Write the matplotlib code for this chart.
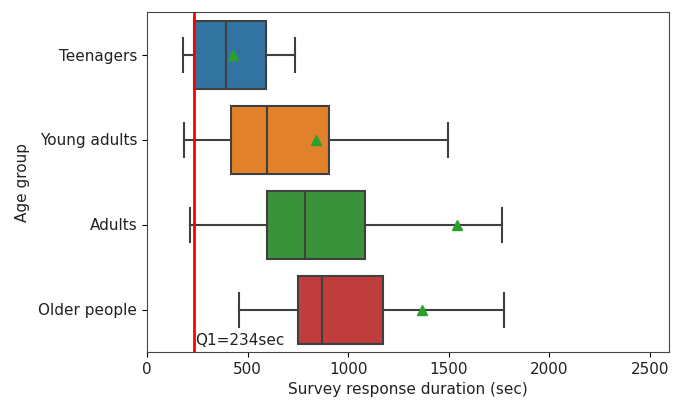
import matplotlib
matplotlib.use("Agg")
import matplotlib.pyplot as plt
from matplotlib.transforms import blended_transform_factory

groups = ["Teenagers", "Young adults", "Adults", "Older people"]
whislo = [177, 183, 214, 458]
q1 = [235, 417, 595, 749]
med = [394, 597, 784, 871]
q3 = [592, 907, 1085, 1175]
whishi = [736, 1497, 1766, 1776]
means = [429, 840, 1540, 1368]
colors = ["#3274a1", "#e1812c", "#3a923a", "#c03d3e"]
q1_line = 234

fig = plt.figure(figsize=(6.8, 4.03), dpi=100)
ax = fig.add_axes([147/680, 1-352/403, (669-147)/680, (352-12)/403])

stats = []
for i, g in enumerate(groups):
    stats.append(dict(label=g, whislo=whislo[i], q1=q1[i], med=med[i], q3=q3[i],
                      whishi=whishi[i], mean=means[i], fliers=[]))

gray = "#3f3f3f"
bp = ax.bxp(stats, positions=range(len(groups)), vert=False, widths=0.8,
            patch_artist=True, showmeans=True, showfliers=False,
            boxprops=dict(edgecolor=gray, linewidth=1.5),
            medianprops=dict(color=gray, linewidth=1.5),
            whiskerprops=dict(color=gray, linewidth=1.5),
            capprops=dict(color=gray, linewidth=1.5),
            meanprops=dict(marker="^", markerfacecolor="#2ca02c",
                           markeredgecolor="#2ca02c", markersize=7))
for patch, c in zip(bp["boxes"], colors):
    patch.set_facecolor(c)

fs = 11
ax.set_ylim(3.5, -0.5)
ax.set_xlim(0, 2595)
ax.set_yticks(range(len(groups)))
ax.set_yticklabels(groups, fontsize=fs, color="#222222")
ax.tick_params(axis="x", labelsize=fs, labelcolor="#222222")
ax.set_xticks([0, 500, 1000, 1500, 2000, 2500])

ax.axvline(q1_line, color="red", linewidth=2)
trans = blended_transform_factory(ax.transData, ax.transAxes)
ax.text(q1_line + 5, 0.012, "Q1=%dsec" % q1_line, transform=trans,
        fontsize=fs, ha="left", va="bottom", color="#222222")

ax.set_xlabel("Survey response duration (sec)", fontsize=fs, color="#222222")
ax.set_ylabel("Age group", fontsize=fs, color="#222222", labelpad=6)
for s in ax.spines.values():
    s.set_color("#444444")

fig.savefig("out.png", dpi=100)
